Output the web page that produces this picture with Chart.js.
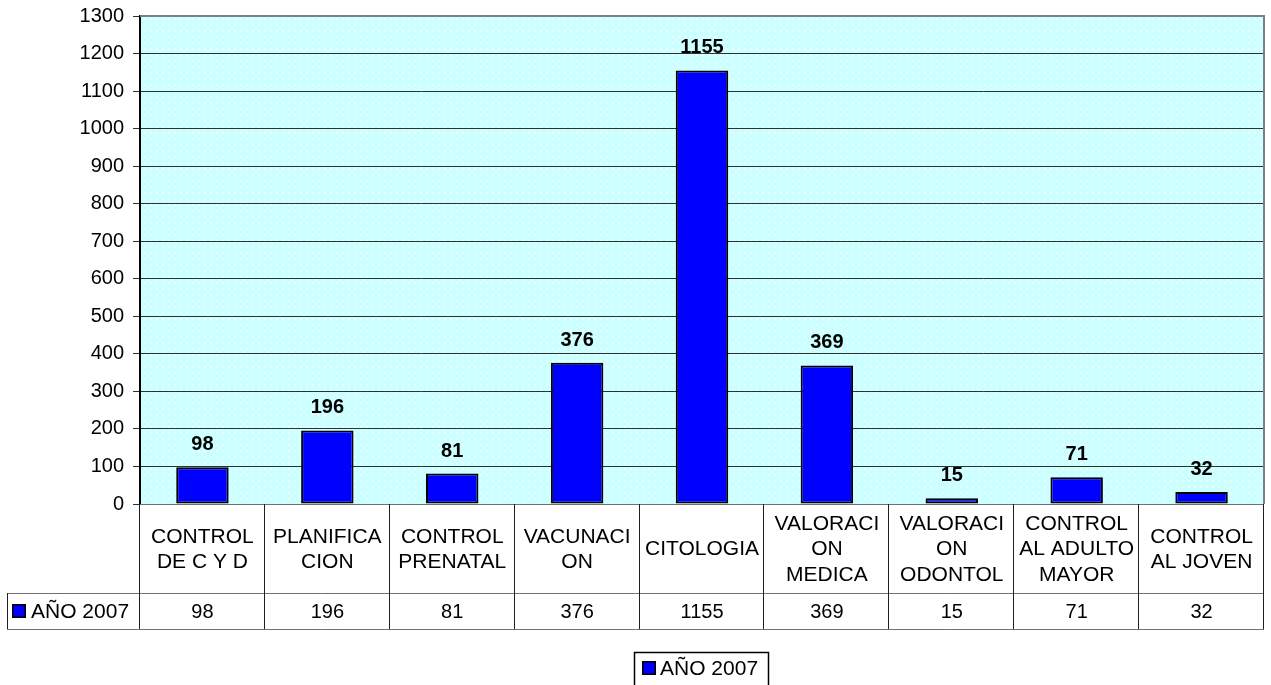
<!DOCTYPE html>
<html lang="es">
<head>
    <meta charset="UTF-8">
    <title>AÑO 2007</title>
    <script src="https://cdn.jsdelivr.net/npm/chart.js"></script>
    <style>
        html, body {
            margin: 0;
            padding: 0;
            background: #fff;
        }
        .wrap {
            width: 1271px;
            height: 685px;
        }
    </style>
</head>
<body>
    <div class="wrap">
        <canvas id="grafico" width="1271" height="685"></canvas>
    </div>

    <script>
        // datos
        const categorias = [
            ['CONTROL', 'DE C Y D'],
            ['PLANIFICA', 'CION'],
            ['CONTROL', 'PRENATAL'],
            ['VACUNACI', 'ON'],
            ['CITOLOGIA'],
            ['VALORACI', 'ON', 'MEDICA'],
            ['VALORACI', 'ON', 'ODONTOL'],
            ['CONTROL', 'AL ADULTO', 'MAYOR'],
            ['CONTROL', 'AL JOVEN']
        ];
        const valores = [98, 196, 81, 376, 1155, 369, 15, 71, 32];
        const serie = 'AÑO 2007';
        const yMin = 0;
        const yMax = 1300;
        const yPaso = 100;

        const AZUL = '#0000FF';
        const FUENTE = '"Liberation Sans", Arial, sans-serif';

        // fondo del area de trazado (celeste con puntitos)
        function patronFondo(ctx) {
            const c = document.createElement('canvas');
            c.width = 6;
            c.height = 6;
            const p = c.getContext('2d');
            p.fillStyle = '#CCFFFF';
            p.fillRect(0, 0, 6, 6);
            p.fillStyle = '#E6FFFF';
            p.fillRect(0, 0, 2, 2);
            return ctx.createPattern(c, 'repeat');
        }

        const fondoPlugin = {
            id: 'fondo',
            beforeDraw(chart) {
                const { ctx, chartArea: a } = chart;
                ctx.save();
                ctx.fillStyle = patronFondo(ctx);
                ctx.fillRect(a.left, a.top, a.right - a.left, a.bottom - a.top);
                ctx.restore();
            },
            afterDraw(chart) {
                const { ctx, chartArea: a } = chart;
                ctx.save();
                // borde gris arriba y a la derecha
                ctx.strokeStyle = '#808080';
                ctx.lineWidth = 2;
                ctx.beginPath();
                ctx.moveTo(a.left, a.top);
                ctx.lineTo(a.right, a.top);
                ctx.lineTo(a.right, a.bottom);
                ctx.stroke();
                ctx.restore();
            }
        };

        // etiquetas encima de las barras
        const etiquetasPlugin = {
            id: 'etiquetas',
            afterDatasetsDraw(chart) {
                const { ctx } = chart;
                const meta = chart.getDatasetMeta(0);
                ctx.save();
                ctx.font = 'bold 20px ' + FUENTE;
                ctx.fillStyle = '#000';
                ctx.textAlign = 'center';
                ctx.textBaseline = 'alphabetic';
                meta.data.forEach((bar, i) => {
                    ctx.fillText(String(valores[i]), bar.x, bar.y - 17);
                });
                ctx.restore();
            }
        };

        // tabla de datos debajo del eje y leyenda
        const tablaPlugin = {
            id: 'tabla',
            afterDraw(chart) {
                const { ctx, chartArea: a } = chart;
                const x = chart.scales.x;
                const ancho = (a.right - a.left) / valores.length;
                const fila1 = a.bottom;
                const fila2 = a.bottom + 89;
                const fila3 = a.bottom + 125;
                const izq = 7;

                ctx.save();
                ctx.lineWidth = 1;
                // lineas horizontales (grises)
                ctx.strokeStyle = '#707070';
                ctx.beginPath();
                ctx.moveTo(a.left, fila1 + 0.5);
                ctx.lineTo(a.right, fila1 + 0.5);
                ctx.moveTo(izq, fila2 + 0.5);
                ctx.lineTo(a.right, fila2 + 0.5);
                ctx.moveTo(izq, fila3 + 0.5);
                ctx.lineTo(a.right, fila3 + 0.5);
                ctx.stroke();
                // lineas verticales
                ctx.strokeStyle = '#202020';
                ctx.beginPath();
                for (let i = 1; i <= valores.length; i++) {
                    const px = Math.round(a.left + i * ancho) - 0.5;
                    ctx.moveTo(px, fila1);
                    ctx.lineTo(px, fila3);
                }
                ctx.moveTo(a.left - 0.5, fila1);
                ctx.lineTo(a.left - 0.5, fila3);
                ctx.moveTo(izq + 0.5, fila2);
                ctx.lineTo(izq + 0.5, fila3);
                ctx.stroke();

                ctx.fillStyle = '#000';
                ctx.textAlign = 'center';
                ctx.textBaseline = 'middle';
                const centroFila1 = (fila1 + fila2) / 2;
                const centroFila2 = (fila2 + fila3) / 2;
                const alto = 25.5;
                categorias.forEach((lineas, i) => {
                    const cx = x.getPixelForValue(i);
                    const y0 = centroFila1 - (lineas.length - 1) * alto / 2;
                    ctx.font = '21px ' + FUENTE;
                    lineas.forEach((t, k) => ctx.fillText(t, cx, y0 + k * alto + 1));
                    ctx.font = '20px ' + FUENTE;
                    ctx.fillText(String(valores[i]), cx, centroFila2 + 1);
                });

                // celda de la serie
                ctx.font = '21px ' + FUENTE;
                dibujarClave(ctx, 12, centroFila2);
                ctx.textAlign = 'left';
                ctx.fillStyle = '#000';
                ctx.fillText(serie, 31, centroFila2 + 1);

                // leyenda abajo
                const lx = 634, ly = 652, lw = 134, lh = 34;
                ctx.strokeStyle = '#000';
                ctx.strokeRect(lx + 0.5, ly + 0.5, lw, lh);
                dibujarClave(ctx, lx + 8, ly + 16);
                ctx.fillStyle = '#000';
                ctx.fillText(serie, lx + 26, ly + 17);
                ctx.restore();
            }
        };

        function dibujarClave(ctx, x, cy) {
            ctx.fillStyle = AZUL;
            ctx.fillRect(x, cy - 7, 14, 14);
            ctx.strokeStyle = '#000';
            ctx.lineWidth = 1.5;
            ctx.strokeRect(x + 0.75, cy - 6.25, 12.5, 12.5);
        }

        const ctx = document.getElementById('grafico').getContext('2d');
        new Chart(ctx, {
            type: 'bar',
            data: {
                labels: categorias,
                datasets: [{
                    label: serie,
                    data: valores,
                    backgroundColor: AZUL,
                    borderColor: '#000',
                    borderWidth: 2,
                    borderSkipped: false,
                    categoryPercentage: 1,
                    barPercentage: 0.42
                }]
            },
            options: {
                responsive: false,
                animation: false,
                devicePixelRatio: 1,
                layout: {
                    padding: { left: 0, right: 7, top: 16, bottom: 181 }
                },
                plugins: {
                    legend: { display: false },
                    tooltip: { enabled: false }
                },
                scales: {
                    x: {
                        display: false
                    },
                    y: {
                        min: yMin,
                        max: yMax,
                        afterFit(scale) {
                            scale.width = 140;
                            scale.paddingTop = 0;
                            scale.paddingBottom = 0;
                        },
                        ticks: {
                            stepSize: yPaso,
                            color: '#000',
                            padding: 9,
                            font: { family: FUENTE, size: 20 },
                            callback: (v) => String(v)
                        },
                        grid: {
                            color: '#303030',
                            lineWidth: 1,
                            tickLength: 7
                        },
                        border: {
                            color: '#000',
                            width: 2
                        }
                    }
                }
            },
            plugins: [fondoPlugin, etiquetasPlugin, tablaPlugin]
        });
    </script>
</body>
</html>
